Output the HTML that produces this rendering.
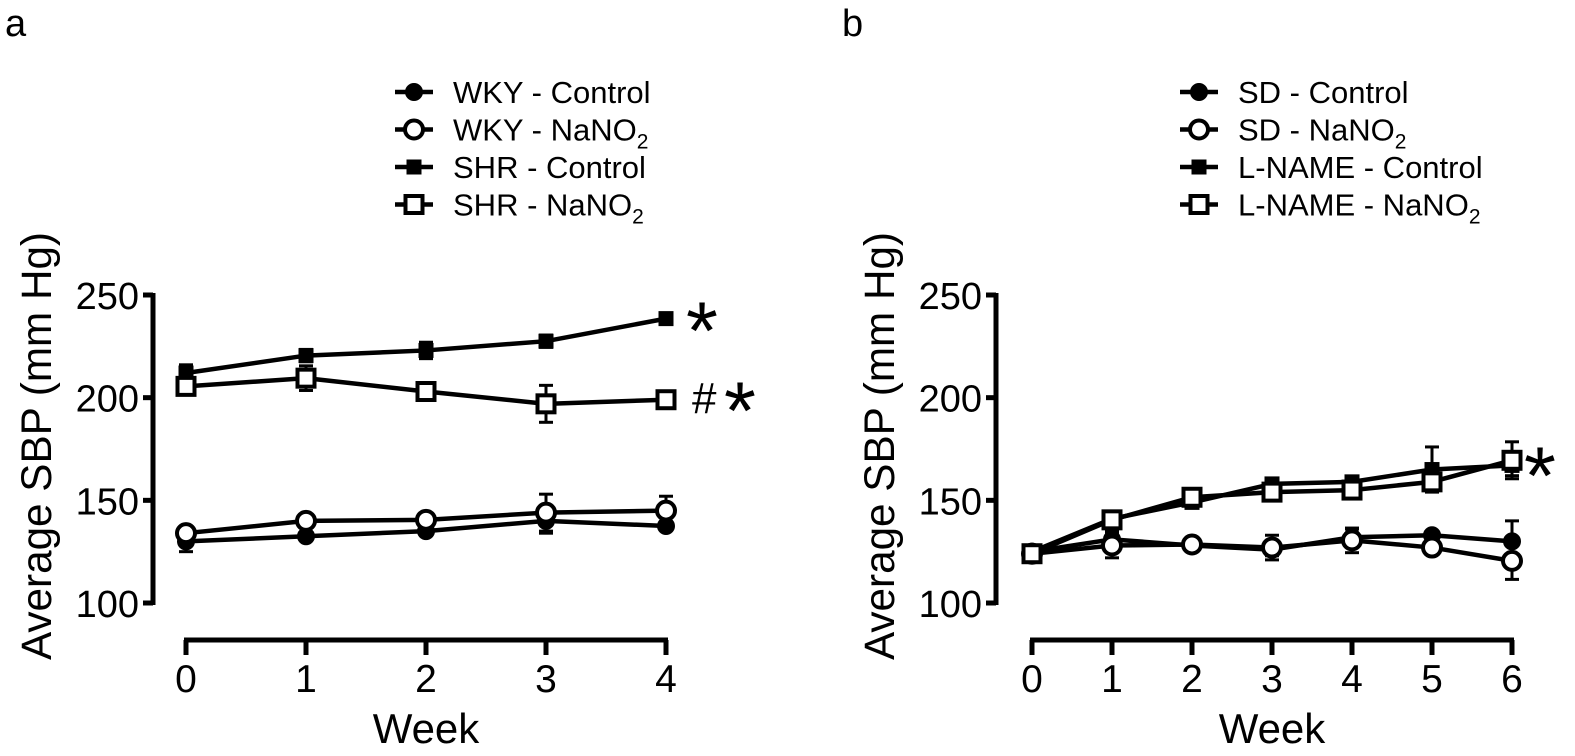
<!DOCTYPE html>
<html><head><meta charset="utf-8"><style>
body{margin:0;background:#fff}
svg text{font-family:"Liberation Sans",Arial,sans-serif;fill:#000}
</style></head><body>
<svg id="s" width="1575" height="751" xmlns="http://www.w3.org/2000/svg"></svg>
<script>
const weeksA=[0,1,2,3,4];
const wkyCtrl=[130,132.5,135,140,137.5], wkyCtrlErr=[5,2,2,6,2];
const wkyNa=[134,140,140.5,144,145], wkyNaErr=[2,2,2,9,7];
const shrCtrl=[212,220.5,223,227.5,238.5], shrCtrlErr=[4,3,4,3,2];
const shrNa=[205.5,209.5,203,197,199], shrNaErr=[3,6,3,9,3];
const weeksB=[0,1,2,3,4,5,6];
const sdCtrl=[125,131,128,126,132,133,130], sdCtrlErr=[2,4,1,3,4,1,10];
const sdNa=[124,128,128.5,127,130.5,127,120.5], sdNaErr=[2,6,2,6,6,2,9];
const lnCtrl=[125,141,149,158,159,165,167], lnCtrlErr=[2,2,2,2,2,11,5];
const lnNa=[124,140.5,151.5,154,155,159,169.5], lnNaErr=[2,3,3,2,2,4,9];
const yTicks=[100,150,200,250];
const NS="http://www.w3.org/2000/svg";const svg=document.getElementById('s');
function el(t,a,p){const e=document.createElementNS(NS,t);for(const k in a)e.setAttribute(k,a[k]);(p||svg).appendChild(e);return e;}
function yS(v){return 603-(v-100)*(308/150);}
function marker(g,type,x,y){
 if(type==='fc'||type==='oc')return el('circle',{cx:x,cy:y,r:type==='fc'?7:9,fill:type==='fc'?'#000':'#fff',stroke:'#000','stroke-width':4},g);
 const s=type==='fs'?14:17;return el('rect',{x:x-s/2,y:y-s/2,width:s,height:s,fill:type==='fs'?'#000':'#fff',stroke:'#000','stroke-width':type==='fs'?1:4},g);
}
function panel(o){
 const g=el('g',{});
 
 
 const xS=w=>o.x0+w*o.step;
 const t=el('text',{x:o.lx,y:36,'font-size':38});t.textContent=o.letter;
 
 const ya=el('g',{},g);
 el('line',{x1:o.ax,y1:yS(250)-2,x2:o.ax,y2:yS(100)+2,stroke:'#000','stroke-width':5},ya);
 yTicks.forEach(v=>{el('line',{x1:o.ax-10,y1:yS(v),x2:o.ax,y2:yS(v),stroke:'#000','stroke-width':5},ya);
  const tx=el('text',{x:o.ax-14,y:yS(v)+14,'font-size':38,'text-anchor':'end'},ya);tx.textContent=v;});
 const yt=el('text',{x:0,y:0,'font-size':43,'text-anchor':'middle',textLength:428,lengthAdjust:'spacingAndGlyphs',transform:`translate(${o.ax-102},446) rotate(-90)`},ya);
 yt.textContent='Average SBP (mm Hg)';
 const xa=el('g',{},g);
 const last=o.weeks[o.weeks.length-1];
 el('line',{x1:xS(0)-2,y1:640,x2:xS(last)+2,y2:640,stroke:'#000','stroke-width':5},xa);
 o.weeks.forEach(w=>{el('line',{x1:xS(w),y1:640,x2:xS(w),y2:655,stroke:'#000','stroke-width':5},xa);
  const tx=el('text',{x:xS(w),y:692,'font-size':39,'text-anchor':'middle'},xa);tx.textContent=w;});
 const xt=el('text',{x:(xS(0)+xS(last))/2,y:743,'font-size':42,'text-anchor':'middle'},xa);
 xt.textContent='Week';
 o.series.forEach((s,i)=>{
  const sg=el('g',{},g);
  s.vals.forEach((v,j)=>{const x=xS(o.weeks[j]);const y1=yS(v+s.err[j]),y2=yS(v-s.err[j]);
   el('line',{x1:x,y1:y1,x2:x,y2:y2,stroke:'#000','stroke-width':3},sg);
   el('line',{x1:x-7,y1:y1,x2:x+7,y2:y1,stroke:'#000','stroke-width':3},sg);
   el('line',{x1:x-7,y1:y2,x2:x+7,y2:y2,stroke:'#000','stroke-width':3},sg);});
  el('polyline',{points:s.vals.map((v,j)=>xS(o.weeks[j])+','+yS(v)).join(' '),fill:'none',stroke:'#000','stroke-width':4.5},sg);
  s.vals.forEach((v,j)=>marker(sg,s.m,xS(o.weeks[j]),yS(v)));
  const lg=el('g',{},g);
  const ly=92+i*37.5;
  el('line',{x1:o.legX,y1:ly,x2:o.legX+38,y2:ly,stroke:'#000','stroke-width':4.5},lg);
  marker(lg,s.m,o.legX+19,ly);
  const lt=el('text',{x:o.legX+58,y:ly+11,'font-size':31},lg);lt.innerHTML=s.label;
 });
 o.notes.forEach(n=>{const tx=el('text',{x:n.x,y:n.y,'font-size':n.fs},g);tx.textContent=n.t;
  });
}
const sub='NaNO<tspan font-size="21" dy="8">2</tspan>';
panel({name:'panel-a',letter:'a',lx:5,ax:153,x0:186,step:120,weeks:weeksA,legX:395,
 series:[{name:'wky-control',m:'fc',vals:wkyCtrl,err:wkyCtrlErr,label:'WKY - Control'},
  {name:'wky-nano2',m:'oc',vals:wkyNa,err:wkyNaErr,label:'WKY - '+sub},
  {name:'shr-control',m:'fs',vals:shrCtrl,err:shrCtrlErr,label:'SHR - Control'},
  {name:'shr-nano2',m:'os',vals:shrNa,err:shrNaErr,label:'SHR - '+sub}],
 notes:[{x:686,y:359,t:'*',fs:82},{x:692,y:413,t:'#',fs:44},{x:724,y:439,t:'*',fs:82}]});
panel({name:'panel-b',letter:'b',lx:842,ax:996,x0:1032,step:80,weeks:weeksB,legX:1180,
 series:[{name:'sd-control',m:'fc',vals:sdCtrl,err:sdCtrlErr,label:'SD - Control'},
  {name:'sd-nano2',m:'oc',vals:sdNa,err:sdNaErr,label:'SD - '+sub},
  {name:'lname-control',m:'fs',vals:lnCtrl,err:lnCtrlErr,label:'L-NAME - Control'},
  {name:'lname-nano2',m:'os',vals:lnNa,err:lnNaErr,label:'L-NAME - '+sub}],
 notes:[{x:1524,y:504,t:'*',fs:82}]});
</script>
</body></html>
